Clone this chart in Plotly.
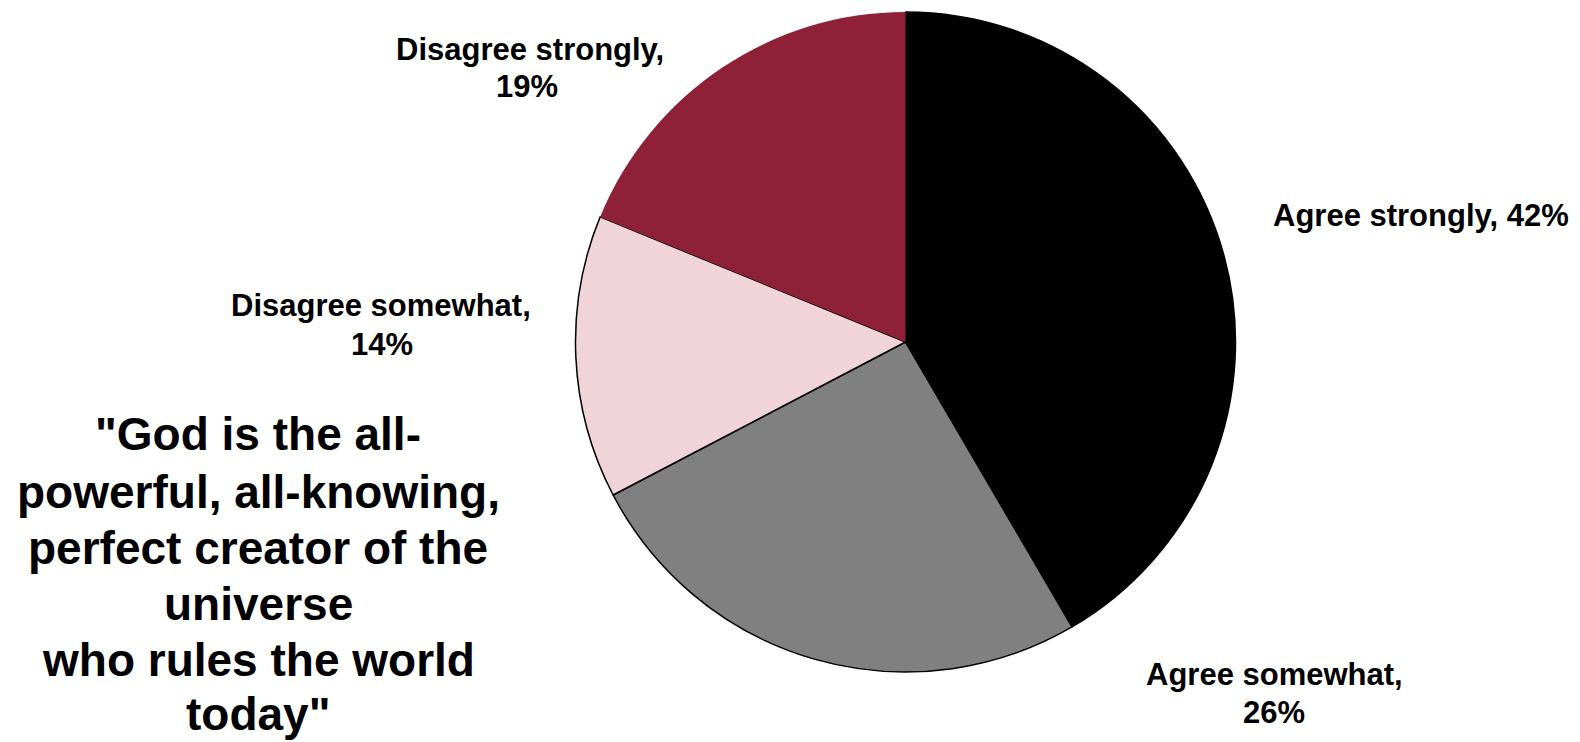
import plotly.graph_objects as go

W, H = 1580, 742

categories = ["Agree strongly", "Agree somewhat", "Disagree somewhat", "Disagree strongly"]
values = [42, 26, 14, 19]
colors = ["#000000", "#808080", "#f0d4da", "#8e2138"]
line_widths = [1.5, 1.5, 1.5, 0]

# label lines: (text, x_px, y_center_px)
label_lines = [
    ("Disagree strongly,", 530, 50),
    ("19%", 527, 87),
    ("Agree strongly, 42%", 1421, 216),
    ("Agree somewhat,", 1274, 674),
    ("26%", 1274, 712),
    ("Disagree somewhat,", 381, 305),
    ("14%", 382, 344),
]

quote_lines = [
    '"God is the all-',
    "powerful, all-knowing,",
    "perfect creator of the",
    "universe",
    "who rules the world",
    'today"',
]
quote_centers_y = [434, 492, 548, 604, 660, 714]

fig = go.Figure()
fig.add_trace(go.Pie(
    labels=categories,
    values=values,
    sort=False,
    direction="clockwise",
    rotation=0,
    textinfo="none",
    hoverinfo="label+percent",
    marker=dict(colors=colors, line=dict(color="#000000", width=line_widths)),
    domain=dict(x=[(905.5 - 330) / W, (905.5 + 330) / W], y=[70 / H, 730 / H]),
    showlegend=False,
))

annotations = []
for txt, xp, yp in label_lines:
    annotations.append(dict(
        text=txt, x=xp / W, y=1 - yp / H, xref="paper", yref="paper",
        xanchor="center", yanchor="middle", showarrow=False,
        font=dict(family="Liberation Sans, Arial, sans-serif", size=31, color="#000000", weight="bold"),
    ))
for txt, yp in zip(quote_lines, quote_centers_y):
    annotations.append(dict(
        text=txt, x=258 / W, y=1 - yp / H, xref="paper", yref="paper",
        xanchor="center", yanchor="middle", showarrow=False,
        font=dict(family="Liberation Sans, Arial, sans-serif", size=46, color="#000000", weight="bold"),
    ))

fig.update_layout(
    width=W, height=H,
    margin=dict(l=0, r=0, t=0, b=0),
    paper_bgcolor="#ffffff",
    plot_bgcolor="#ffffff",
    annotations=annotations,
)

fig.write_html(
    "out.html",
    config={"displayModeBar": False},
    post_script="document.body.style.margin='0';document.body.style.overflow='hidden';",
)
